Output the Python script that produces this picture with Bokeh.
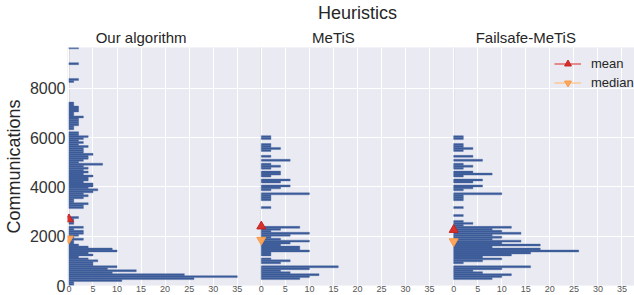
import math
from bokeh.plotting import figure
from bokeh.layouts import column
from bokeh.models import (Range1d, FixedTicker, Label, Legend, LegendItem,
                          ColumnDataSource)
from bokeh.embed import file_html
from bokeh.resources import INLINE

# ---------------- data ----------------
BIN_WIDTH = 80                      # communications per histogram bin
heuristics = ["Our algorithm", "MeTiS", "Failsafe-MeTiS"]
group_offsets = [0, 40, 80]         # x offset of each heuristic's histogram
x_tick_values = [0, 5, 10, 15, 20, 25, 30, 35]
y_tick_values = [0, 2000, 4000, 6000, 8000]

# counts per bin (bin i covers [i*80, (i+1)*80))
our_counts = [
    1, 1, 11, 26, 35, 24, 9, 14, 8, 10,
    5, 5, 6, 4, 2, 5, 4, 10, 9, 4,
    2, 1, 1, 3, 1, 2, 3, 3, 1, 3,
    0, 1, 1, 1, 2, 0, 0, 0, 0, 3,
    3, 4, 1, 1, 3, 4, 3, 5, 6, 4,
    5, 5, 3, 4, 4, 5, 3, 4, 3, 4,
    3, 7, 2, 3, 4, 4, 5, 3, 3, 3,
    4, 2, 3, 2, 3, 4, 2, 2, 0, 1,
    1, 2, 2, 2, 2, 3, 1, 1, 2, 2,
    2, 1, 1, 0, 0, 0, 0, 0, 0, 0,
    0, 0, 0, 1, 2, 0, 0, 0, 0, 0,
    0, 0, 2, 0, 0, 0, 0, 0, 0, 0,
    2,
]
metis_counts = [
    0, 0, 0, 8, 10, 12, 6, 4, 10, 16,
    0, 4, 6, 2, 0, 2, 2, 10, 8, 8,
    4, 6, 10, 4, 2, 6, 10, 2, 4, 8,
    0, 0, 0, 0, 0, 0, 0, 0, 0, 2,
    0, 0, 0, 2, 2, 2, 10, 0, 2, 4,
    6, 0, 4, 6, 0, 2, 4, 4, 0, 2,
    4, 2, 0, 6, 0, 2, 0, 0, 2, 4,
    2, 2, 0, 0, 2, 2,
]
failsafe_counts = [
    0, 0, 0, 8, 10, 12, 6, 4, 10, 16,
    0, 2, 6, 10, 6, 12, 16, 26, 18, 8,
    18, 10, 14, 8, 10, 8, 14, 10, 8, 12,
    2, 4, 2, 0, 0, 2, 0, 0, 0, 2,
    0, 0, 0, 2, 2, 2, 10, 0, 2, 4,
    6, 0, 4, 6, 0, 2, 8, 4, 0, 2,
    4, 2, 0, 6, 0, 4, 0, 0, 2, 4,
    2, 2, 0, 0, 2, 2,
]
all_counts = [our_counts, metis_counts, failsafe_counts]
mean_values = [2690, 2400, 2260]
median_values = [1900, 1850, 1790]

FONT = "Liberation Sans"
TEXT = "#262626"
X_RANGE = (-0.3, 117.6)
Y_END = 9655
HEADER_H = 47

# ---------------- header (titles) ----------------
head = figure(width=634, height=HEADER_H, x_range=Range1d(*X_RANGE),
              y_range=Range1d(0, HEADER_H), output_backend="svg",
              toolbar_location=None, x_axis_location=None, y_axis_location=None,
              min_border_left=65, min_border_right=0, min_border_top=0,
              min_border_bottom=0)
head.outline_line_color = None
head.grid.visible = False
head.background_fill_color = "white"
head.add_layout(Label(x=60, y=HEADER_H - 12, text="Heuristics", text_align="center",
                      text_baseline="alphabetic", text_font_size="18px",
                      text_font=FONT, text_color=TEXT))
for o, name in zip(group_offsets, heuristics):
    head.add_layout(Label(x=o + 15, y=10, text=name, text_align="center",
                          text_baseline="alphabetic", text_font_size="15px",
                          text_font=FONT, text_color=TEXT))

# ---------------- main plot ----------------
p = figure(width=634, height=295 - HEADER_H, title=None,
           x_range=head.x_range, y_range=Range1d(0, Y_END),
           output_backend="svg", toolbar_location=None,
           min_border_left=65, min_border_right=0,
           min_border_top=0, min_border_bottom=10)
p.background_fill_color = "#EAEAF2"
p.border_fill_color = "white"
p.outline_line_color = None

x_ticks = [o + t for o in group_offsets for t in x_tick_values]
p.xaxis.ticker = FixedTicker(ticks=x_ticks)
p.xaxis.major_label_overrides = {o + t: str(t) for o in group_offsets for t in x_tick_values}
p.xaxis.major_label_text_font_size = "9px"
p.xaxis.major_label_text_color = "#555555"
p.xaxis.major_label_text_font = FONT
p.xaxis.major_label_standoff = 0
p.yaxis.ticker = FixedTicker(ticks=y_tick_values)
p.yaxis.major_label_text_font_size = "16px"
p.yaxis.major_label_text_color = "#333333"
p.yaxis.major_label_text_font = FONT
p.yaxis.major_label_standoff = 2
p.yaxis.axis_label = "Communications"
p.yaxis.axis_label_text_font = FONT
p.yaxis.axis_label_text_font_size = "18px"
p.yaxis.axis_label_text_font_style = "normal"
p.yaxis.axis_label_text_color = TEXT
p.yaxis.axis_label_standoff = 3
for ax in (p.xaxis, p.yaxis):
    ax.axis_line_color = None
    ax.major_tick_line_color = None
    ax.minor_tick_line_color = None
    ax.major_tick_out = 0
    ax.major_tick_in = 0

p.xgrid.ticker = FixedTicker(ticks=x_ticks)
p.ygrid.ticker = FixedTicker(ticks=y_tick_values)
for g in (p.xgrid, p.ygrid):
    g.grid_line_color = "white"
    g.grid_line_width = 1

# zero line of each group
p.segment(x0=group_offsets, x1=group_offsets, y0=[0] * 3, y1=[Y_END] * 3,
          line_color="#c9c9cc", line_width=1.2, level="underlay")

# histograms
for o, counts in zip(group_offsets, all_counts):
    ys = [i * BIN_WIDTH + BIN_WIDTH / 2 for i, c in enumerate(counts) if c > 0]
    rights = [o + c for c in counts if c > 0]
    src = ColumnDataSource(dict(y=ys, left=[o] * len(ys), right=rights))
    p.hbar(y="y", left="left", right="right", height=BIN_WIDTH, source=src,
           fill_color="#3a5a97", line_color="#4d6ba4", line_width=0.4)

# mean / median markers
nan = float("nan")
mean_line = p.line(x=[nan, nan], y=[nan, nan], line_color="#e04848", line_width=1.2)
mean_pts = p.scatter(x=group_offsets, y=mean_values, marker="triangle", size=9,
                     fill_color="#d9302b", line_color="#c02420")
median_line = p.line(x=[nan, nan], y=[nan, nan], line_color="#ffbf80", line_width=1.2)
median_pts = p.scatter(x=group_offsets, y=median_values, marker="inverted_triangle",
                       size=9, fill_color="#ffa65a", line_color="#f59a4a")

legend = Legend(items=[LegendItem(label="mean", renderers=[mean_line, mean_pts]),
                       LegendItem(label="median", renderers=[median_line, median_pts])],
                location=(487, 194), padding=0, margin=0, spacing=2,
                glyph_width=27, glyph_height=17, label_height=17, label_standoff=10,
                label_text_font_size="13px", label_text_font=FONT,
                label_text_color=TEXT,
                background_fill_alpha=0, border_line_color=None)
p.add_layout(legend)

layout = column(head, p, spacing=0)
open("out.html", "w").write(file_html(layout, INLINE))
